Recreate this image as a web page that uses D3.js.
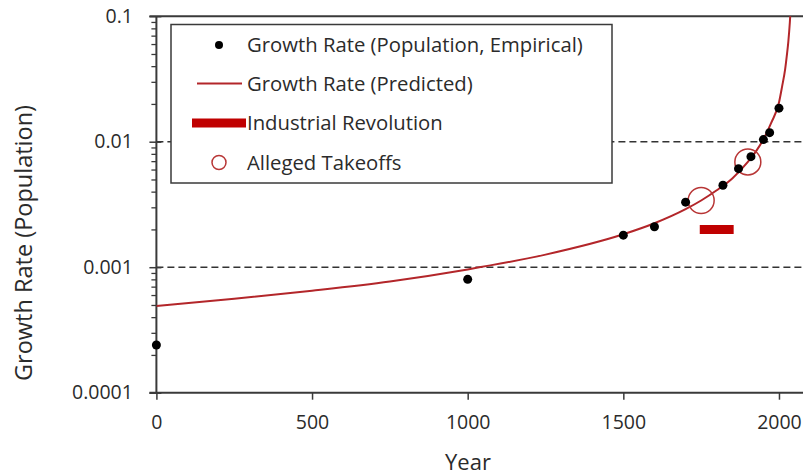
<!DOCTYPE html>
<html>
<head>
<meta charset="utf-8">
<script src="https://cdn.jsdelivr.net/npm/d3@7"></script>
<style>
  html, body { margin: 0; padding: 0; background: #fff; }
  svg { display: block; font-family: "Open Sans", Lato, sans-serif; }
  .tick text { fill: #2b2b2b; }
</style>
</head>
<body>
<svg id="chart" width="803" height="475"></svg>
<script>
// Empirical population growth rates
const empYears = [0, 1000, 1500, 1600, 1700, 1820, 1870, 1910, 1950, 1970, 2000];
const empRates = [0.00024, 0.0008, 0.0018, 0.0021, 0.0033, 0.0045, 0.0061, 0.0076, 0.0104, 0.0118, 0.0185];

// Predicted growth-rate curve (hyperbolic model), sampled
const predYears = [0, 250, 500, 750, 1000, 1250, 1500, 1600, 1700, 1750, 1800, 1850, 1900, 1925, 1950, 1975, 2000, 2010, 2020, 2025, 2030, 2035, 2038];
const predRates = [0.00049, 0.00056, 0.00065, 0.00077, 0.00096, 0.00126, 0.00183, 0.00224, 0.0029, 0.0034, 0.0041, 0.0051, 0.0069, 0.0083, 0.0104, 0.0141, 0.0205, 0.0275, 0.038, 0.048, 0.0625, 0.09, 0.12];

// Alleged takeoff points
const takeoffYears = [1750, 1900];
const takeoffRates = [0.0034, 0.0069];

// Industrial Revolution span
const industrialYears = [1760, 1840];
const industrialRate = 0.002;

// Axis ticks
const xTicks = [0, 500, 1000, 1500, 2000];
const yTicks = [0.0001, 0.001, 0.01, 0.1];
const yTickLabels = ["0.0001", "0.001", "0.01", "0.1"];
const yMinorTicks = [];
[0.0001, 0.001, 0.01].forEach(d => { for (let k = 2; k <= 9; k++) yMinorTicks.push(d * k); });
const gridValues = [0.001, 0.01];

const legendItems = [
  "Growth Rate (Population, Empirical)",
  "Growth Rate (Predicted)",
  "Industrial Revolution",
  "Alleged Takeoffs"
];

const RED_LINE = "#b3262a";
const RED_BAR = "#c00000";
const RED_RING = "#b83636";
const AXIS = "#3a3a3a";
const FONT = "Open Sans";
const TICK_FS = 19.5;
const LEGEND_FS = 20.3;

const svg = d3.select("#chart");
const pLeft = 156.4, pTop = 16.2, pBottom = 392.7, pRight = 810.1;

const x = d3.scaleLinear().domain([0, 2100]).range([pLeft, pRight]);
const y = d3.scaleLog().domain([0.0001, 0.1]).range([pBottom, pTop]);

svg.append("defs").append("clipPath").attr("id", "plotClip")
  .append("rect").attr("x", pLeft).attr("y", pTop)
  .attr("width", pRight - pLeft).attr("height", pBottom - pTop);

// dashed reference lines
svg.append("g").selectAll("line").data(gridValues).join("line")
  .attr("x1", pLeft).attr("x2", pRight)
  .attr("y1", d => y(d)).attr("y2", d => y(d))
  .attr("stroke", "#333").attr("stroke-width", 1.5)
  .attr("stroke-dasharray", "7,4");

// y axis: minor ticks
svg.append("g").attr("transform", `translate(${pLeft},0)`)
  .call(d3.axisLeft(y).tickValues(yMinorTicks).tickSize(5).tickFormat(""))
  .call(g => g.select(".domain").remove())
  .call(g => g.selectAll("line").attr("stroke", AXIS).attr("stroke-width", 1.3));

// y axis: major ticks with labels
svg.append("g").attr("transform", `translate(${pLeft},0)`)
  .call(d3.axisLeft(y).tickValues(yTicks).tickSize(7).tickPadding(16.5)
    .tickFormat((d, i) => yTickLabels[i]))
  .call(g => g.select(".domain").remove())
  .call(g => g.selectAll("line").attr("stroke", AXIS).attr("stroke-width", 1.5))
  .call(g => g.selectAll("text").attr("font-size", TICK_FS).attr("font-family", FONT));

// major ticks crossing inward
svg.append("g").attr("transform", `translate(${pLeft},0)`)
  .call(d3.axisRight(y).tickValues(yTicks).tickSize(5).tickFormat(""))
  .call(g => g.select(".domain").remove())
  .call(g => g.selectAll("line").attr("stroke", AXIS).attr("stroke-width", 1.5));

// x axis
svg.append("g").attr("transform", `translate(0,${pBottom})`)
  .call(d3.axisBottom(x).tickValues(xTicks).tickSize(7).tickPadding(15.8).tickFormat(d3.format("d")))
  .call(g => g.select(".domain").remove())
  .call(g => g.selectAll("line").attr("stroke", AXIS).attr("stroke-width", 1.5))
  .call(g => g.selectAll("text").attr("font-size", TICK_FS).attr("font-family", FONT));

// frame lines
svg.append("line").attr("x1", pLeft).attr("x2", pLeft).attr("y1", pTop).attr("y2", pBottom)
  .attr("stroke", AXIS).attr("stroke-width", 2);
svg.append("line").attr("x1", pLeft - 7).attr("x2", pRight).attr("y1", pBottom).attr("y2", pBottom)
  .attr("stroke", AXIS).attr("stroke-width", 2);
svg.append("line").attr("x1", pLeft - 7).attr("x2", pRight).attr("y1", pTop).attr("y2", pTop)
  .attr("stroke", AXIS).attr("stroke-width", 2);

// axis titles
svg.append("text").attr("x", 468).attr("y", 470)
  .attr("text-anchor", "middle").attr("font-size", 22).attr("fill", "#2b2b2b")
  .text("Year");
svg.append("text").attr("transform", "translate(32,243) rotate(-90)")
  .attr("text-anchor", "middle").attr("font-size", 23.5).attr("fill", "#2b2b2b")
  .text("Growth Rate (Population)");

// legend
const lg = svg.append("g");
lg.append("rect").attr("x", 171).attr("y", 24.5).attr("width", 441).attr("height", 158.5)
  .attr("fill", "#fff").attr("stroke", "#3a3a3a").attr("stroke-width", 1.5);
const rowY = [45, 83.5, 123, 162.5];
lg.selectAll("text").data(legendItems).join("text")
  .attr("x", 247).attr("y", (d, i) => rowY[i]).attr("dy", "0.36em")
  .attr("font-size", LEGEND_FS).attr("fill", "#2b2b2b").text(d => d);
lg.append("circle").attr("cx", 219).attr("cy", rowY[0]).attr("r", 4).attr("fill", "#000");
lg.append("line").attr("x1", 197).attr("x2", 242).attr("y1", rowY[1]).attr("y2", rowY[1])
  .attr("stroke", RED_LINE).attr("stroke-width", 2);
lg.append("line").attr("x1", 196.5).attr("x2", 241.5).attr("y1", rowY[2]).attr("y2", rowY[2])
  .attr("stroke", RED_BAR).attr("stroke-width", 9).attr("stroke-linecap", "square");
lg.append("circle").attr("cx", 219).attr("cy", rowY[3]).attr("r", 7)
  .attr("fill", "none").attr("stroke", RED_RING).attr("stroke-width", 1.5);

// plot marks
const plot = svg.append("g").attr("clip-path", "url(#plotClip)");

const predData = predYears.map((yr, i) => [yr, predRates[i]]);
plot.append("path").datum(predData)
  .attr("fill", "none").attr("stroke", RED_LINE).attr("stroke-width", 2)
  .attr("d", d3.line().x(d => x(d[0])).y(d => y(d[1])).curve(d3.curveMonotoneX));

plot.append("line")
  .attr("x1", x(industrialYears[0])).attr("x2", x(industrialYears[1]))
  .attr("y1", y(industrialRate)).attr("y2", y(industrialRate))
  .attr("stroke", RED_BAR).attr("stroke-width", 9).attr("stroke-linecap", "square");

svg.append("g").selectAll("circle").data(empYears).join("circle")
  .attr("cx", d => x(d)).attr("cy", (d, i) => y(empRates[i])).attr("r", 4.5)
  .attr("fill", "#000");

plot.append("g").selectAll("circle").data(takeoffYears).join("circle")
  .attr("cx", d => x(d)).attr("cy", (d, i) => y(takeoffRates[i])).attr("r", 13)
  .attr("fill", "none").attr("stroke", RED_RING).attr("stroke-width", 1.5);
</script>
</body>
</html>
